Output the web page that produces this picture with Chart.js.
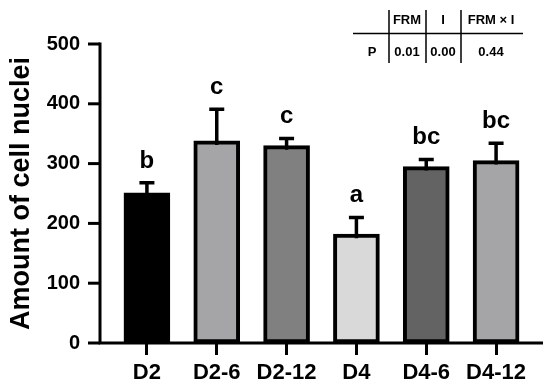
<!DOCTYPE html>
<html>
<head>
<meta charset="utf-8">
<script src="https://cdn.jsdelivr.net/npm/chart.js@4"></script>
<style>
  body { margin: 0; background: #fff; }
  canvas { display: block; }
</style>
</head>
<body>
<canvas id="barChart" width="550" height="389"></canvas>
<script>
// groups and values
const groups = ['D2', 'D2-6', 'D2-12', 'D4', 'D4-6', 'D4-12'];
const means = [251, 338, 330, 182, 295, 305];
const sd = [17, 53, 12, 28, 12, 29];
const letters = ['b', 'c', 'c', 'a', 'bc', 'bc'];
const fills = ['#000000', '#a5a5a7', '#808080', '#d9d9d9', '#636363', '#a5a5a7'];
const yTicks = [0, 100, 200, 300, 400, 500];

// P-value table
const tableHead = ['', 'FRM', 'I', 'FRM × I'];
const tableRow = ['P', '0.01', '0.00', '0.44'];

const FONT = 'Liberation Sans, Arial, sans-serif';

// axes in GraphPad style, error bars, letters and the table
const extras = {
    id: 'extras',
    afterDatasetsDraw(chart) {
        const ctx = chart.ctx;
        const x = chart.scales.x, y = chart.scales.y;
        const area = chart.chartArea;
        const axisX = area.left - 12;
        ctx.save();
        ctx.strokeStyle = '#000';
        ctx.fillStyle = '#000';

        // axis lines
        ctx.lineWidth = 3;
        ctx.beginPath();
        ctx.moveTo(axisX, y.getPixelForValue(500) - 1.5);
        ctx.lineTo(axisX, area.bottom);
        ctx.lineTo(area.right + 12, area.bottom);
        ctx.stroke();
        // y tick marks
        yTicks.forEach(v => {
            const py = y.getPixelForValue(v);
            ctx.beginPath();
            ctx.moveTo(axisX - 12, py);
            ctx.lineTo(axisX, py);
            ctx.stroke();
        });

        // error bars
        ctx.lineWidth = 3.5;
        means.forEach((m, i) => {
            const px = x.getPixelForValue(i);
            const top = y.getPixelForValue(m + sd[i]);
            ctx.beginPath();
            ctx.moveTo(px, y.getPixelForValue(m) + 4);
            ctx.lineTo(px, top);
            ctx.moveTo(px - 7.5, top);
            ctx.lineTo(px + 7.5, top);
            ctx.stroke();
            ctx.font = 'bold 24px ' + FONT;
            ctx.textAlign = 'center';
            ctx.textBaseline = 'alphabetic';
            ctx.fillText(letters[i], px, top - 15);
        });

        // table
        const colX = [372, 407, 443, 491];
        ctx.font = 'bold 13px ' + FONT;
        ctx.textBaseline = 'middle';
        tableHead.forEach((t, i) => ctx.fillText(t, colX[i], 20));
        tableRow.forEach((t, i) => ctx.fillText(t, colX[i], 52));
        ctx.lineWidth = 1.5;
        ctx.beginPath();
        ctx.moveTo(353, 33.5);
        ctx.lineTo(523, 33.5);
        [389, 426, 461].forEach(vx => {
            ctx.moveTo(vx, 10);
            ctx.lineTo(vx, 63);
        });
        ctx.stroke();
        ctx.restore();
    }
};

new Chart(document.getElementById('barChart'), {
    type: 'bar',
    data: {
        labels: groups,
        datasets: [{
            data: means,
            backgroundColor: fills,
            borderColor: '#000',
            borderWidth: 4,
            borderSkipped: false,
            barThickness: 46
        }]
    },
    options: {
        responsive: false,
        animation: false,
        layout: { padding: { top: 35, right: 19, left: 0, bottom: 0 } },
        plugins: { legend: { display: false }, tooltip: { enabled: false } },
        scales: {
            x: {
                afterFit: s => { s.height = 46; },
                border: { display: false },
                grid: {
                    offset: false,
                    drawOnChartArea: false,
                    drawTicks: true,
                    tickLength: 12,
                    lineWidth: 3,
                    color: '#000'
                },
                ticks: { color: '#000', padding: 5, font: { family: FONT, size: 22, weight: 'bold' } }
            },
            y: {
                min: 0,
                max: 500,
                afterFit: s => { s.width = 112; },
                afterBuildTicks: s => { s.ticks = yTicks.map(v => ({ value: v })); },
                border: { display: false },
                grid: { display: false, drawTicks: false },
                ticks: { color: '#000', padding: 32, font: { family: FONT, size: 20, weight: 'bold' } },
                title: {
                    display: true,
                    text: 'Amount of cell nuclei',
                    color: '#000',
                    padding: { top: 5, bottom: 0 },
                    font: { family: FONT, size: 27, weight: 'bold' }
                }
            }
        }
    },
    plugins: [extras]
});
</script>
</body>
</html>
